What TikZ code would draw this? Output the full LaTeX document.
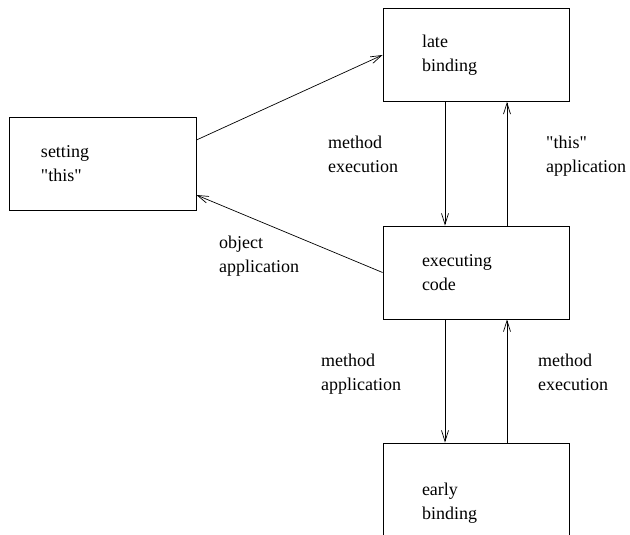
\documentclass[tikz,border=0pt]{standalone}
\usepackage{fontspec}
\setmainfont{Liberation Serif}[Ligatures=TeXOff]
\usetikzlibrary{arrows.meta}
\begin{document}
\begin{tikzpicture}[x=1pt,y=-1pt,
  every node/.style={font=\fontsize{18}{24}\selectfont},
  box/.style={draw, line width=0.9pt, minimum width=186pt, minimum height=93pt,
    inner xsep=0pt, inner ysep=0pt, align=left, text width=108pt},
  lbl/.style={anchor=base west, inner sep=0pt, align=left},
  conn/.style={line width=0.7pt, -{Straight Barb[length=11pt,width=7pt]}}]
\useasboundingbox (0,0) rectangle (630,535);
\clip (0,0) rectangle (630,535);
\node[box] (late) at (476,55) {late\\binding};
\node[box, minimum width=187pt, text width=123pt] (set) at (102.5,163.5) {setting\\"this"};
\node[box] (exec) at (476,272.5) {executing\\code};
\node[box, minimum height=121pt] (early) at (476,503.5) {early\\binding};
\draw[conn] ([yshift=23.5pt]set.east) -- (late.west);
\draw[conn] (exec.west) -- ([yshift=-31.5pt]set.east);
\draw[conn] ([xshift=-31pt]late.south) -- ([xshift=-31pt]exec.north);
\draw[conn] ([xshift=31pt]exec.north) -- ([xshift=31pt]late.south);
\draw[conn] ([xshift=-31pt]exec.south) -- ([xshift=-31pt]early.north);
\draw[conn] ([xshift=31pt]early.north) -- ([xshift=31pt]exec.south);
\node[lbl] (l1) at (328,172) {method\\execution};
\node[lbl] (l2) at (546,172) {"this"\\application};
\node[lbl] (l3) at (219,272) {object\\application};
\node[lbl] (l4) at (321,390) {method\\application};
\node[lbl] (l5) at (538,390) {method\\execution};
\end{tikzpicture}
\end{document}
